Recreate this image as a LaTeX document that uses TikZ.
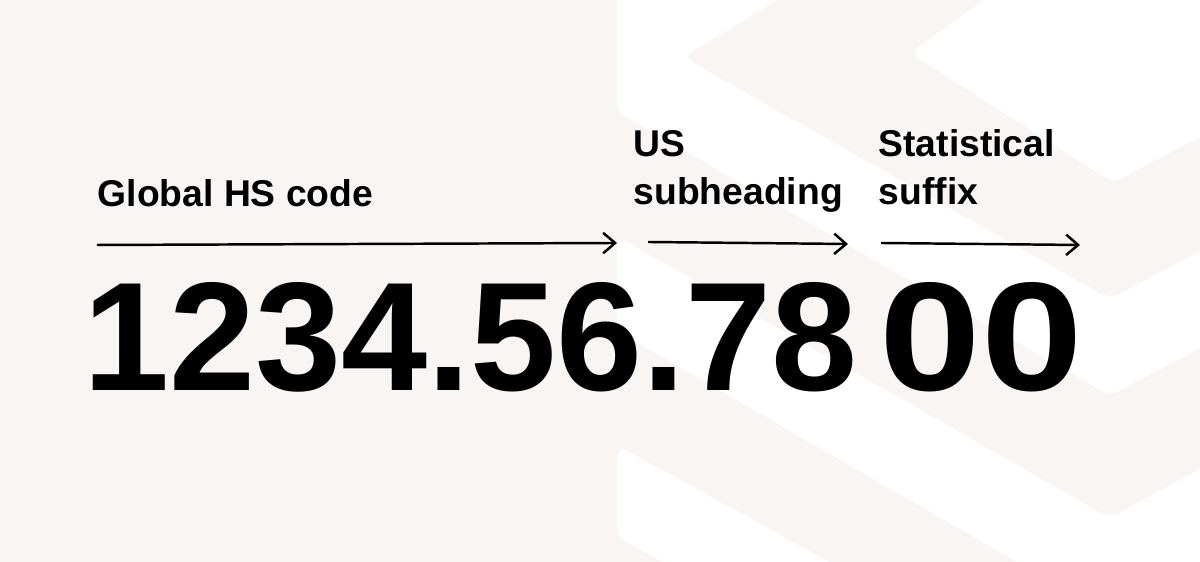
\documentclass[tikz,border=0pt]{standalone}
\usepackage{fontspec}
\setmainfont{Liberation Sans}
\usetikzlibrary{arrows.meta}
\definecolor{sand}{RGB}{248,245,242}
\tikzset{
  band/.style={fill=white, rounded corners=3pt},
  lbl/.style={anchor=base west, inner sep=0pt, align=left, font=\fontsize{10.6}{13.66}\selectfont\bfseries},
  code/.style={anchor=base west, inner sep=0pt, font=\fontsize{44}{50}\selectfont\bfseries},
  pointer/.style={line width=0.7pt, -{Straight Barb[length=3.4pt,width=5.8pt]}}
}
\begin{document}
\begin{tikzpicture}[x=0.01cm,y=-0.01cm]
\clip (0,0) rectangle (1200,562);
\fill[sand] (0,0) rectangle (1200,562);

\fill[band] (910,53) -- (1113,183) -- (1320,73) -- (1320,-120) -- (1150,-120) -- cycle;
\fill[band] (617,-30) -- (617,112) -- (1110,396) -- (1300,295) -- (1300,198) -- (1110,299) -- (683,57) -- (828,-30) -- cycle;
\fill[band] (617,236) -- (617,331) -- (1110,616) -- (1300,512) -- (1300,414) -- (1110,518) -- cycle;
\fill[band] (617,445) -- (617,537) -- (1000,748) -- (1000,656) -- cycle;

\node[lbl] (hs) at (97,207) {Global HS code};
\node[lbl] (us) at (633,205) {US\\subheading};
\node[lbl] (st) at (878,205) {Statistical\\suffix};

\coordinate (hs0) at (97,245);
\coordinate (hs1) at (617,243);
\coordinate (us0) at (648,242);
\coordinate (us1) at (848,244);
\coordinate (st0) at (881,243);
\coordinate (st1) at (1080,245);
\draw[pointer] (hs0) -- (hs1);
\draw[pointer] (us0) -- (us1);
\draw[pointer] (st0) -- (st1);

\node[code] (main) at (83,391) {1234.56.78};
\node[code] (sfx) at (879,391) {\scalebox{1.18}[1]{00}};
\end{tikzpicture}
\end{document}
